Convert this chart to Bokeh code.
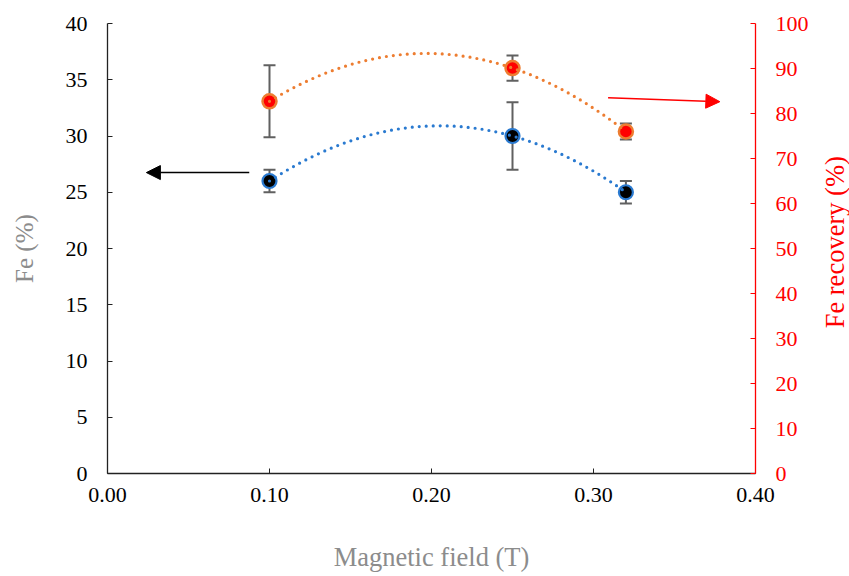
import numpy as np
from bokeh.plotting import figure
from bokeh.layouts import row
from bokeh.core.properties import value
from bokeh.models import (Range1d, LinearAxis, FixedTicker, NumeralTickFormatter,
                          ColumnDataSource, Whisker, TeeHead, Arrow, NormalHead)
from bokeh.embed import file_html
from bokeh.resources import INLINE

# ---- data ----
field = [0.10, 0.25, 0.32]
fe_grade = [26.0, 30.0, 25.0]
fe_grade_err = [1.0, 3.0, 1.0]
fe_recovery = [82.7, 90.1, 76.0]
fe_recovery_err = [8.0, 2.8, 1.8]

x_ticks = [0.0, 0.1, 0.2, 0.3, 0.4]
left_ticks = list(range(0, 41, 5))
right_ticks = list(range(0, 101, 10))

FONT = "Liberation Serif"
BLUE = "#2a7ad0"
ORANGE = "#ED7D31"
RED = "#FF0000"
GRAY_TXT = "#8c8c8c"
ERR = "#606060"

TITLE_W = 30
p = figure(width=849 - TITLE_W, height=576, output_backend="svg", toolbar_location=None,
           x_range=Range1d(0, 0.4), y_range=Range1d(0, 40),
           min_border_left=107, min_border_right=94 - TITLE_W, min_border_top=23,
           min_border_bottom=103, x_axis_location="below", y_axis_location="left")
p.extra_y_ranges = {"rec": Range1d(0, 100)}
p.outline_line_color = None
p.xgrid.visible = False
p.ygrid.visible = False
p.background_fill_color = "white"
p.border_fill_color = "white"

# axes styling
xa = p.xaxis[0]
xa.ticker = FixedTicker(ticks=x_ticks)
xa.formatter = NumeralTickFormatter(format="0.00")
xa.axis_label = "Magnetic field (T)"
ya = p.yaxis[0]
ya.ticker = FixedTicker(ticks=left_ticks)
ya.axis_label = "Fe (%)"

ra = LinearAxis(y_range_name="rec", ticker=FixedTicker(ticks=right_ticks))
p.add_layout(ra, "right")

for ax in (xa, ya, ra):
    ax.major_tick_in = 5
    ax.major_tick_out = 0
    ax.minor_tick_in = 0
    ax.minor_tick_out = 0
    ax.major_label_text_font = FONT
    ax.major_label_text_font_size = "22px"
    ax.axis_label_text_font = FONT
    ax.axis_label_text_font_size = "25px"
    ax.axis_label_text_font_style = "normal"
    ax.axis_line_width = 1.3
xa.axis_label_text_font_size = "26.5px"

for ax in (xa, ya):
    ax.axis_line_color = "#222222"
    ax.major_tick_line_color = "#222222"
    ax.major_label_text_color = "black"
    ax.axis_label_text_color = GRAY_TXT

ra.axis_line_color = RED
ra.major_tick_line_color = RED
ra.major_label_text_color = RED

xa.major_label_standoff = 14
xa.axis_label_standoff = 37
ya.major_label_standoff = 20
ya.axis_label_standoff = 25
ra.major_label_standoff = 20

# ---- error bars ----
src_fe = ColumnDataSource(dict(
    x=field, y=fe_grade,
    lo=[v - e for v, e in zip(fe_grade, fe_grade_err)],
    hi=[v + e for v, e in zip(fe_grade, fe_grade_err)]))
src_rec = ColumnDataSource(dict(
    x=field, y=fe_recovery,
    lo=[v - e for v, e in zip(fe_recovery, fe_recovery_err)],
    hi=[v + e for v, e in zip(fe_recovery, fe_recovery_err)]))

for src, rname in ((src_fe, "default"), (src_rec, "rec")):
    w = Whisker(source=src, base="x", lower="lo", upper="hi", dimension="height",
                line_color=ERR, line_width=2, level="underlay", y_range_name=rname,
                lower_head=TeeHead(size=12, line_color=ERR, line_width=2),
                upper_head=TeeHead(size=12, line_color=ERR, line_width=2))
    p.add_layout(w)

# ---- markers ----
p.scatter("x", "y", source=src_fe, size=14, fill_color="black",
          line_color=BLUE, line_width=2.2)
p.scatter("x", "y", source=src_rec, size=14, fill_color=RED,
          line_color=ORANGE, line_width=2.5, y_range_name="rec")

# ---- polynomial (order 2) trendlines derived from data ----
xs = np.linspace(min(field), max(field), 120)
c_fe = np.polyfit(field, fe_grade, 2)
c_rec = np.polyfit(field, fe_recovery, 2)
p.line(xs, np.polyval(c_fe, xs), line_color=BLUE, line_width=3.2,
       line_dash="0 7", line_cap="round")
p.line(xs, np.polyval(c_rec, xs), line_color=ORANGE, line_width=3.2,
       line_dash="0 7", line_cap="round", y_range_name="rec")

# ---- arrows ----
p.add_layout(Arrow(x_start=0.0875, y_start=26.75, x_end=0.024, y_end=26.75,
                   line_color="black", line_width=1.5,
                   end=NormalHead(size=14, fill_color="black", line_color="black")))
p.add_layout(Arrow(x_start=0.309, y_start=33.4, x_end=0.378, y_end=33.05,
                   line_color=RED, line_width=1.5,
                   end=NormalHead(size=14, fill_color=RED, line_color=RED)))

# ---- right axis title (bottom-to-top), in a narrow companion panel ----
t = figure(width=TITLE_W, height=576, output_backend="svg", toolbar_location=None,
           x_range=Range1d(0, 1), y_range=Range1d(0, 576),
           min_border=0, min_border_left=0, min_border_right=0,
           min_border_top=0, min_border_bottom=0)
t.axis.visible = False
t.grid.visible = False
t.outline_line_color = None
t.border_fill_color = "white"
t.text(x=[0.5], y=[576 - 248 - 32], text=["Fe recovery (%)"], angle=float(np.pi / 2),
       text_align="center", text_baseline="middle", text_color=RED,
       text_font=value(FONT), text_font_size="26.5px")

layout = row(p, t, spacing=0)
open("out.html", "w").write(file_html(layout, INLINE))
